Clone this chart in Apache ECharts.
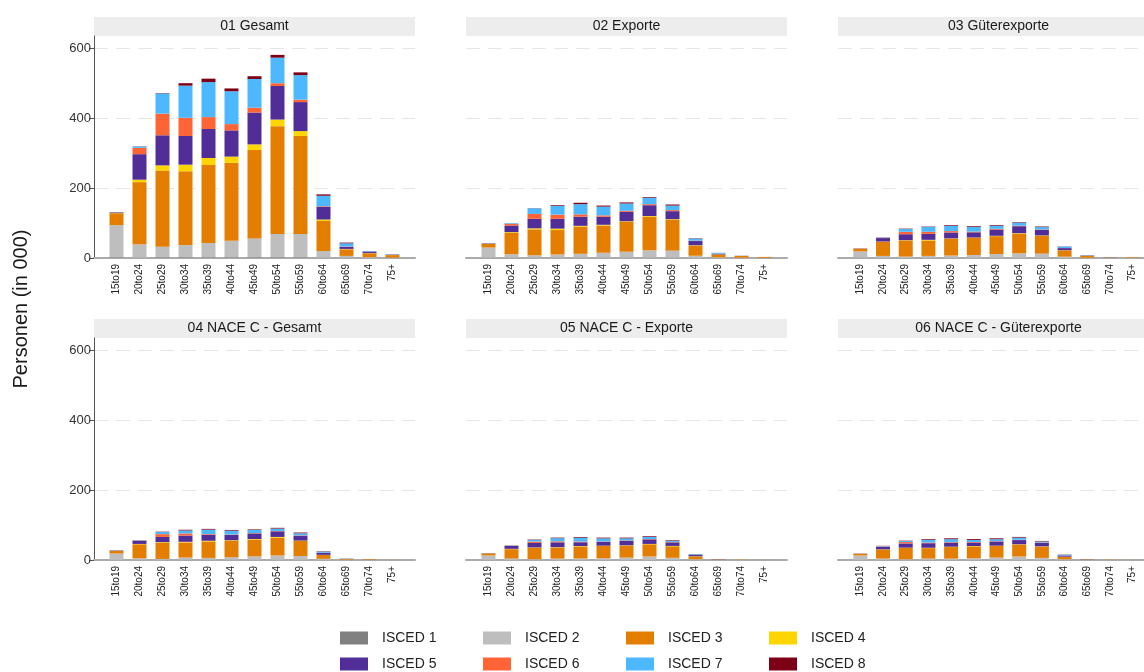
<!DOCTYPE html>
<html>
<head>
<meta charset="utf-8">
<script src="https://cdn.jsdelivr.net/npm/echarts@6.0.0/dist/echarts.min.js"></script>
<style>
html,body{margin:0;padding:0;background:#fff;}
#chart{width:1144px;height:672px;}
</style>
</head>
<body>
<div id="chart"></div>
<script>
// ---------- data ----------
const categories = ['15to19','20to24','25to29','30to34','35to39','40to44','45to49','50to54','55to59','60to64','65to69','70to74','75+'];
const levels = ['ISCED 1','ISCED 2','ISCED 3','ISCED 4','ISCED 5','ISCED 6','ISCED 7','ISCED 8'];
const panelTitles = ['01 Gesamt','02 Exporte','03 Güterexporte','04 NACE C - Gesamt','05 NACE C - Exporte','06 NACE C - Güterexporte'];
const yTicks = [0, 200, 400, 600];

// each panel: rows = ISCED 1..8, columns = age groups (Personen in 000)
const gesamt = [
  [2,1,2,2,2,2,2,2,2,1,1,0.5,0.3],
  [92,38,30,35,41,47,54,67,67,19,5,2,1],
  [34,178,218,211,223,223,253,308,280,86,19,11,7],
  [0.5,7,15,19,20,18,16,19,14,4,1,0.5,0.2],
  [2,73,86,82,83,75,91,96,83,36,6,3,1],
  [0.5,18,62,52,34,18,14,8,7,2,1,0.5,0.2],
  [0.5,4,58,92,100,94,82,73,70,30,9,2,1],
  [0,0.5,1,7,10,8,8,8,8,4,2,0.5,0.2]
];
const exporte = [
  [1,1,1,1,1,1,1,1,1,0.5,0.2,0.1,0.1],
  [29,10,7,9,11,14,17,21,20,6,2,1,0.5],
  [11,61,74,70,78,78,85,96,88,29,8,5,2.5],
  [0,2,3,4,2,2,2,2,2,1,0.2,0,0],
  [1,19,27,28,26,23,27,31,23,12,2,0.3,0],
  [0,5,14,12,7,4,3,3,3,1,0.2,0,0],
  [0.3,2,16,25,29,25,21,18,13,6,2,0.2,0],
  [0,0,0.5,2,4,3,3,2,3,1,0.2,0,0]
];
const gueterexporte = [
  [1,0.5,0.5,0.5,0.5,0.5,0.5,0.5,0.5,0.3,0.1,0.1,0],
  [18,5.5,3.5,5.5,6.5,8,11,13,12,3.5,1,0.5,0.5],
  [8,40,46,44,48,49,51,56,51,18,5,1.5,1.5],
  [0,1,1,2,1,1,1,1.5,1,0.5,0.2,0,0],
  [0.5,10,17,17,17,15,18,20,16,6,1,0.3,0],
  [0,1,7,6,4,2,2,1.5,1,0.3,0.1,0,0],
  [0.2,1,8,14,15,14,9,8.5,7,4,0.5,0.5,0],
  [0,0.3,1,1,2,2,2,1.5,1.5,0.5,0.1,0,0]
];
const naceGesamt = [
  [0.5,0.5,0.5,0.5,0.5,0.5,0.5,0.5,0.5,0.3,0.1,0.1,0],
  [18,4.5,2.5,6.5,5.5,7.5,10,12.5,11,3,1,0.5,0.2],
  [8,40,46,43,47,47,48,51,43,11,2,1.5,0.3],
  [0,1,2,2,2,1.5,1.5,2,1,0.5,0.1,0,0],
  [1,9,15,18,17,15,16,16,14,6,0.5,0.1,0],
  [0,1,8,6,2,1.5,1,1,1,0.3,0,0,0],
  [0.3,1,6,8.5,13,11,9,7,6,3,0.5,0,0],
  [0,0.2,1,2,2,2,1.5,2,2,1,0.1,0,0]
];
const naceExporte = [
  [0.5,0.3,0.3,0.3,0.3,0.3,0.3,0.3,0.3,0.2,0.1,0,0],
  [12.5,3.7,2,3.7,4,4.7,6.7,9.7,6,2,0.5,0.3,0.1],
  [6,27,32,31,34,35,34,35,33,8,1,0.7,0.2],
  [0,1,1.5,1.5,1.5,1,1,1,1,0.5,0,0,0],
  [0.5,8,13,14,11,11,13,13,10,3.5,0.5,0,0],
  [0,1,4,3,2,1,1,1,1,0.2,0,0,0],
  [0.2,1,5,9,11,9,6,6,4,2,0,0,0],
  [0,0.2,1,1.5,2,2,2,2,1.5,0.5,0,0,0]
];
const naceGueterexporte = [
  [0.5,0.3,0.3,0.3,0.3,0.3,0.3,0.3,0.3,0.2,0.1,0,0],
  [12.5,3.7,2,3.7,3.7,4.7,6.7,9.7,5.7,2,0.5,0.3,0.1],
  [5,26,32,30,33,34,33,34,32,7,1,0.6,0.2],
  [0,0.5,1,1,1,1,1,1,1,0.3,0,0,0],
  [0.5,7.5,12,13,11,10,12,12,10,3.5,0.4,0,0],
  [0,1,4,2,2,1.5,1,1,1,0.2,0,0,0],
  [0.2,1,3,8,8.5,6,5.5,6,3,2,0,0,0],
  [0,0.5,1,2,2.5,2.5,2.5,2,1.5,0.5,0,0,0]
];
const panels = [gesamt, exporte, gueterexporte, naceGesamt, naceExporte, naceGueterexporte];

// ---------- styling / layout ----------
const colors = ['#808080','#bebebe','#e37e00','#ffd500','#512d98','#ff6436','#4db8ff','#7d0016'];
const FONT = '"Liberation Sans", Arial, sans-serif';
const colLeft = [94, 466, 838];
const rowTop = [36, 338];
const PW = 321, PH = 222, STRIP = 19, PAD = 11;
const YMAX = 635;
const NP = panels.length;

const grids = [], xAxes = [], yAxes = [], series = [], graphics = [], legends = [];

// background grids (gridlines, axis lines, y labels): indices 0..5
panels.forEach((panel, p) => {
  const col = p % 3, row = Math.floor(p / 3);
  const left = colLeft[col], top = rowTop[row];
  grids.push({left: left, top: top, width: PW, height: PH});
  xAxes.push({
    type: 'category', gridIndex: p, data: categories,
    axisLine: {show: true, onZero: false, lineStyle: {color: '#ababab', width: 2}},
    axisTick: {show: false}, axisLabel: {show: false}, splitLine: {show: false}
  });
  const showY = col === 0;
  yAxes.push({
    type: 'value', gridIndex: p, min: 0, max: YMAX, interval: 200,
    axisLine: {show: showY, onZero: false, lineStyle: {color: '#555', width: 1}},
    axisTick: {show: showY, length: 5, customValues: yTicks, lineStyle: {color: '#555'}},
    axisLabel: {show: showY, customValues: yTicks, fontSize: 13, color: '#333', margin: 3, fontFamily: FONT},
    splitLine: {show: true, showMinLine: false, showMaxLine: true,
      lineStyle: {color: '#e6e6e6', width: 1, type: [14, 8]}}
  });
  // strip header
  graphics.push({type: 'rect', shape: {x: left, y: top - STRIP, width: PW, height: STRIP},
    style: {fill: '#ededed'}, silent: true});
  graphics.push({type: 'text', x: left + PW / 2, y: top - STRIP / 2,
    style: {text: panelTitles[p], fill: '#1a1a1a', font: '14px ' + FONT, textAlign: 'center', textVerticalAlign: 'middle'}, silent: true});
});

// bar grids (inset so categories have outer padding): indices 6..11
panels.forEach((panel, p) => {
  const col = p % 3, row = Math.floor(p / 3);
  const gi = NP + p;
  grids.push({left: colLeft[col] + PAD, top: rowTop[row], width: PW - 2 * PAD, height: PH});
  xAxes.push({
    type: 'category', gridIndex: gi, data: categories,
    axisLine: {show: false}, axisTick: {show: false}, splitLine: {show: false},
    axisLabel: {rotate: 90, fontSize: 10, color: '#222', margin: 6, fontFamily: FONT, interval: 0}
  });
  yAxes.push({
    type: 'value', gridIndex: gi, min: 0, max: YMAX, interval: 200,
    axisLine: {show: false}, axisTick: {show: false}, axisLabel: {show: false}, splitLine: {show: false}
  });
  panel.forEach((vals, k) => {
    series.push({
      type: 'bar', name: levels[k], xAxisIndex: gi, yAxisIndex: gi, stack: 'panel' + p,
      barWidth: 14, itemStyle: {color: colors[k]},
      emphasis: {disabled: true},
      data: vals
    });
  });
});

// y axis title
graphics.push({type: 'text', x: 21, y: 309, rotation: Math.PI / 2,
  style: {text: 'Personen (in 000)', fill: '#1a1a1a', font: '20px ' + FONT, textAlign: 'center', textVerticalAlign: 'middle'}, silent: true});

// legend: 4 columns x 2 rows
const legLeft = [340, 483, 626, 769];
const legTop = [631, 657];
levels.forEach((name, k) => {
  legends.push({
    data: [name], left: legLeft[k % 4], top: legTop[Math.floor(k / 4)],
    orient: 'horizontal', padding: 0, itemWidth: 28, itemHeight: 13, icon: 'rect',
    selectedMode: false,
    textStyle: {fontSize: 14, color: '#222', fontFamily: FONT, padding: [0, 0, 0, 9]}
  });
});

const chart = echarts.init(document.getElementById('chart'), null, {renderer: 'canvas'});
chart.setOption({
  animation: false,
  backgroundColor: '#ffffff',
  color: colors,
  textStyle: {fontFamily: FONT},
  grid: grids, xAxis: xAxes, yAxis: yAxes, series: series,
  legend: legends,
  graphic: graphics
});
</script>
</body>
</html>
